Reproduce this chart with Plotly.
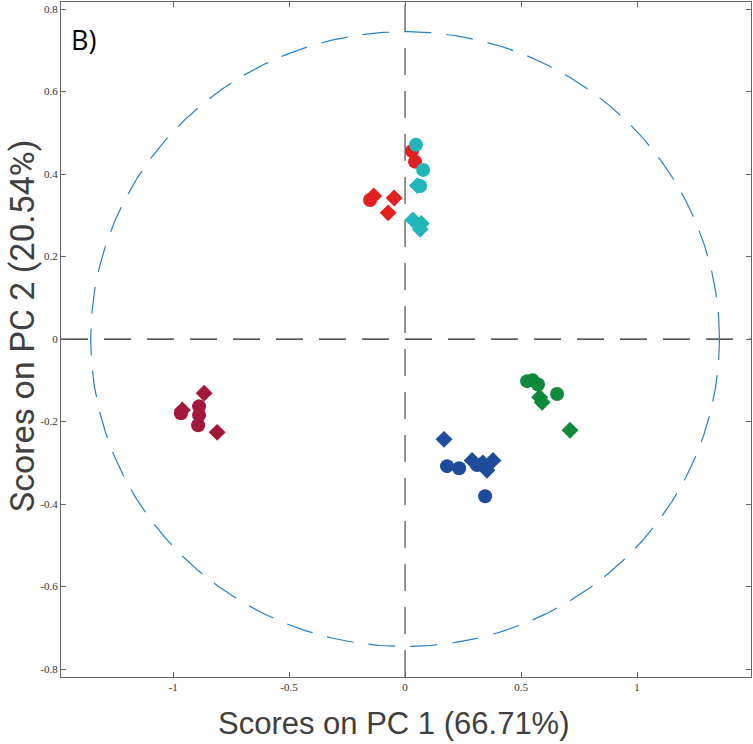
import numpy as np
import plotly.graph_objects as go

# ---- data ----
colors = {"red": "#e41f22", "cyan": "#22b6b8", "darkred": "#a3173a",
          "green": "#108a3a", "blue": "#1f4b9c"}

red_circ_x = [0.030, 0.043, -0.151]
red_circ_y = [0.456, 0.430, 0.337]
red_diam_x = [-0.135, -0.047, -0.073]
red_diam_y = [0.347, 0.342, 0.306]

cyan_circ_x = [0.047, 0.078, 0.065]
cyan_circ_y = [0.471, 0.410, 0.371]
cyan_diam_x = [0.053, 0.034, 0.070, 0.065]
cyan_diam_y = [0.372, 0.289, 0.280, 0.266]

dred_circ_x = [-0.966, -0.888, -0.888, -0.892]
dred_circ_y = [-0.180, -0.163, -0.184, -0.209]
dred_diam_x = [-0.866, -0.960, -0.810]
dred_diam_y = [-0.131, -0.172, -0.226]

green_circ_x = [0.526, 0.550, 0.573, 0.655]
green_circ_y = [-0.102, -0.100, -0.110, -0.133]
green_diam_x = [0.591, 0.580, 0.711]
green_diam_y = [-0.153, -0.141, -0.221]

blue_circ_x = [0.181, 0.233, 0.310, 0.345]
blue_circ_y = [-0.308, -0.313, -0.305, -0.381]
blue_diam_x = [0.168, 0.289, 0.353, 0.379, 0.335]
blue_diam_y = [-0.243, -0.294, -0.318, -0.294, -0.300]

ellipse_a = 1.355
ellipse_b = 0.745

x_range = [-1.483, 1.491]
y_range = [-0.819, 0.817]
x_ticks = [-1, -0.5, 0, 0.5, 1]
y_ticks = [-0.8, -0.6, -0.4, -0.2, 0, 0.2, 0.4, 0.6, 0.8]
x_ticklabels = ["-1", "-0.5", "0", "0.5", "1"]
y_ticklabels = ["-0.8", "-0.6", "-0.4", "-0.2", "0", "0.2", "0.4", "0.6", "0.8"]

x_title = "Scores on PC 1 (66.71%)"
y_title = "Scores on PC 2 (20.54%)"
panel_label = "B)"

series = [
    ("red", red_circ_x, red_circ_y, red_diam_x, red_diam_y),
    ("cyan", cyan_circ_x, cyan_circ_y, cyan_diam_x, cyan_diam_y),
    ("darkred", dred_circ_x, dred_circ_y, dred_diam_x, dred_diam_y),
    ("green", green_circ_x, green_circ_y, green_diam_x, green_diam_y),
    ("blue", blue_circ_x, blue_circ_y, blue_diam_x, blue_diam_y),
]

fig = go.Figure()

# zero lines
fig.add_trace(go.Scatter(x=x_range, y=[0, 0], mode="lines",
                         line=dict(color="#222222", width=1.2, dash="27px,16px"),
                         hoverinfo="skip", showlegend=False))
fig.add_trace(go.Scatter(x=[0, 0], y=y_range, mode="lines",
                         line=dict(color="#666666", width=1.4, dash="27px,16px"),
                         hoverinfo="skip", showlegend=False))

# confidence ellipse
t = np.linspace(0, 2 * np.pi, 721)
fig.add_trace(go.Scatter(x=ellipse_a * np.cos(t), y=ellipse_b * np.sin(t), mode="lines",
                         line=dict(color="#2a7fc4", width=1.2, dash="27px,15px"),
                         hoverinfo="skip", showlegend=False))

for name, cx, cy, dx, dy in series:
    c = colors[name]
    fig.add_trace(go.Scatter(x=dx, y=dy, mode="markers",
                             marker=dict(symbol="diamond", size=13, color=c, line=dict(width=0)),
                             showlegend=False))
    fig.add_trace(go.Scatter(x=cx, y=cy, mode="markers",
                             marker=dict(symbol="circle", size=14, color=c, line=dict(width=0)),
                             showlegend=False))

axis_common = dict(showgrid=False, zeroline=False, showline=True, linecolor="#666666",
                   linewidth=1.2, mirror="allticks", ticks="inside", ticklen=5,
                   tickcolor="#666666", tickwidth=1,
                   tickfont=dict(family="Liberation Serif", size=11, color="#333333"))

fig.update_xaxes(range=x_range, tickvals=x_ticks, ticktext=x_ticklabels, **axis_common)
fig.update_yaxes(range=y_range, tickvals=y_ticks, ticktext=y_ticklabels, **axis_common)

# axis titles
fig.add_annotation(text=x_title, xref="paper", yref="paper", x=(394 - 61) / 690,
                   y=(677 - 723) / 675, xanchor="center", yanchor="middle", showarrow=False,
                   font=dict(family="Liberation Sans", size=31, color="#404040"))
fig.add_annotation(text=y_title, xref="paper", yref="paper", x=(22 - 61) / 690,
                   y=(677 - 326) / 675, xanchor="center", yanchor="middle", showarrow=False,
                   textangle=-90,
                   font=dict(family="Roboto", size=34, color="#404040"))

fig.add_annotation(text=panel_label, xref="paper", yref="paper", x=0.012, y=0.975,
                   xanchor="left", yanchor="top", showarrow=False,
                   font=dict(family="Open Sans", size=27, color="#000000"))

fig.update_layout(width=753, height=744, margin=dict(l=61, r=2, t=2, b=67),
                  plot_bgcolor="white", paper_bgcolor="white")

fig.write_html("out.html")
